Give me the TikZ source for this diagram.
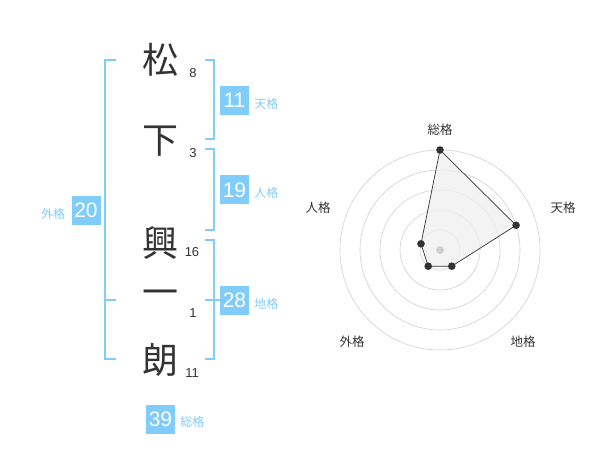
\documentclass[tikz,border=0pt]{standalone}
\usepackage{fontspec}
\setmainfont{Liberation Sans}
\newfontfamily\jpfont{Noto Sans CJK JP}
\usetikzlibrary{positioning}

\definecolor{kakublue}{RGB}{128,204,250}
\definecolor{inkgray}{RGB}{51,51,51}
\definecolor{ringgray}{RGB}{208,208,208}
\definecolor{areagray}{RGB}{240,240,240}

\tikzset{
	kanji/.style={inner sep=0pt, text=inkgray, font=\jpfont\fontsize{36}{36}\selectfont},
	strokes/.style={inner sep=0pt, text=inkgray, font=\fontsize{13}{13}\selectfont},
	kakubox/.style={fill=kakublue, text=white, inner sep=0pt, minimum width=29pt, minimum height=29pt, font=\fontsize{21}{21}\selectfont},
	kakuname/.style={inner sep=0pt, text=kakublue, font=\jpfont\fontsize{12}{12}\selectfont},
	bracket/.style={draw=kakublue, line width=2pt},
	ring/.style={draw=ringgray, line width=0.6pt},
	axisname/.style={inner sep=0pt, text=inkgray, font=\jpfont\fontsize{12.5}{12.5}\selectfont}
}

\begin{document}
\begin{tikzpicture}[x=1pt, y=-1pt]
			%%%%% START %%%%%
			\useasboundingbox (0, 0) rectangle (600, 470);
			
			% name
			\node[kanji] (c1) at (160, 60) {松};
			\node[kanji] (c2) at (160, 141) {下};
			\node[kanji] (c3) at (160, 243) {興};
			\node[kanji] (c4) at (160, 298) {一};
			\node[kanji] (c5) at (160, 360) {朗};
			
			\node[strokes] (s1) at (193, 73) {8};
			\node[strokes] (s2) at (193, 153) {3};
			\node[strokes] (s3) at (192, 252) {16};
			\node[strokes] (s4) at (193, 313) {1};
			\node[strokes] (s5) at (192, 373) {11};
			
			% brackets
			\draw[bracket] (116, 60) -- (105, 60) -- (105, 359) -- (116, 359);
			\draw[bracket] (105, 300) -- (116, 300);
			\draw[bracket] (205, 60) -- (214, 60) -- (214, 139) -- (205, 139);
			\draw[bracket] (205, 149) -- (214, 149) -- (214, 230) -- (205, 230);
			\draw[bracket] (205, 240) -- (214, 240) -- (214, 359) -- (205, 359);
			\draw[bracket] (205, 300) -- (220, 300);
			
			% kaku
			\node[kakubox] (tenbox) at (234.5, 100.5) {11};
			\node[kakuname, right=5pt of tenbox, yshift=-3pt] (tenname) {天格};
			\node[kakubox] (jinbox) at (234.5, 190) {19};
			\node[kakuname, right=5pt of jinbox, yshift=-3pt] (jinname) {人格};
			\node[kakubox] (chibox) at (234.5, 300.5) {28};
			\node[kakuname, right=5pt of chibox, yshift=-3pt] (chiname) {地格};
			\node[kakubox] (gaibox) at (86, 210.5) {20};
			\node[kakuname, left=6pt of gaibox, yshift=-3pt] (gainame) {外格};
			\node[kakubox] (soubox) at (160.5, 419) {39};
			\node[kakuname, right=5pt of soubox, yshift=-3pt] (souname) {総格};
			
			% radar
			\coordinate (mid) at (440, 250);
			\draw[ring] (mid) circle (20pt);
			\draw[ring] (mid) circle (40pt);
			\draw[ring] (mid) circle (60pt);
			\draw[ring] (mid) circle (80pt);
			\draw[ring] (mid) circle (100pt);
			
			\coordinate (psou) at (440, 150);
			\coordinate (pten) at (516.1, 225.3);
			\coordinate (pchi) at (451.8, 266.2);
			\coordinate (pgai) at (428.2, 266.2);
			\coordinate (pjin) at (421, 243.8);
			
			\draw[fill=areagray, fill opacity=0.8, draw=inkgray, line width=0.7pt] (psou) -- (pten) -- (pchi) -- (pgai) -- (pjin) -- cycle;
			\fill[ringgray] (mid) circle (4pt);
			\fill[inkgray] (psou) circle (3.8pt);
			\fill[inkgray] (pten) circle (3.8pt);
			\fill[inkgray] (pchi) circle (3.8pt);
			\fill[inkgray] (pgai) circle (3.8pt);
			\fill[inkgray] (pjin) circle (3.8pt);
			
			\node[axisname] (asou) at (440, 130) {総格};
			\node[axisname] (aten) at (563, 208) {天格};
			\node[axisname] (ajin) at (318, 208) {人格};
			\node[axisname] (agai) at (352, 342) {外格};
			\node[axisname] (achi) at (523, 342) {地格};
			%%%%% END %%%%%
\end{tikzpicture}
\end{document}
